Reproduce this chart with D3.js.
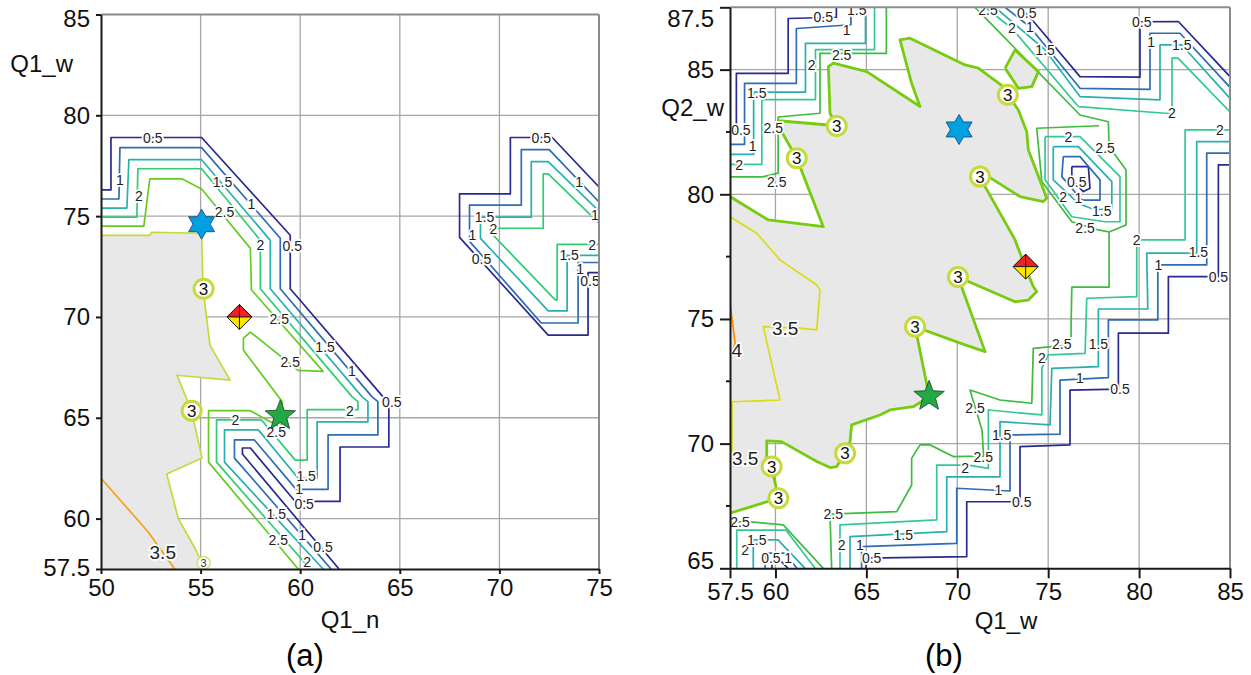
<!DOCTYPE html>
<html><head><meta charset="utf-8">
<script src="https://cdn.jsdelivr.net/npm/d3@7/dist/d3.min.js"></script>
<style>
html,body{margin:0;padding:0;background:#fff;}
svg{display:block;}
text{font-family:"Liberation Sans",Arial,sans-serif;}
</style></head><body>
<svg id="chart" width="1251" height="675"></svg>
<script>
// ---------------- Panel (a) data : Q1_n vs Q1_w ----------------
const A_xTicks=[50,55,60,65,70,75];
const A_yTicks=[57.5,60,65,70,75,80,85];
const A_xGrid=[55,60,65,70];
const A_yGrid=[60,65,70,75,80];
const A_05_main=[[50,76.3],[50.5,76.3],[50.5,78.9],[55.05,78.9],[59.5,74.05],[59.5,71.4],[64.15,66.05],[64.45,65.8],[64.45,63.55],[62,63.55],[62,60.85],[59.75,60.85],[57.5,63.5],[57.1,63.5],[57.1,63.2],[61.95,57.5]];
const A_1_main=[[50,75.85],[50.9,75.85],[50.95,78.4],[55.05,78.4],[59,73.9],[59,71.4],[63.6,66.05],[63.9,65.8],[63.9,64.15],[61.4,64.15],[61.4,61.45],[59.8,61.45],[57.7,63.9],[56.7,63.9],[56.7,63.0],[61.55,57.5]];
const A_15_main=[[50,75.4],[51.3,75.4],[51.4,77.8],[55.05,77.8],[58.5,73.8],[58.5,71.4],[63.1,66.05],[63.4,65.8],[63.4,64.8],[60.85,64.8],[60.85,62.0],[59.9,62.0],[57.9,64.4],[56.2,64.4],[56.2,62.8],[61.15,57.5]];
const A_2_main=[[50,74.95],[51.8,74.95],[51.85,77.35],[55.05,77.35],[58,73.8],[58,71.4],[62.6,66.05],[62.9,65.8],[62.9,65.4],[60.35,65.4],[60.35,62.9],[59.75,62.9],[58.05,64.9],[55.8,64.9],[55.8,62.8],[60.5,57.5]];
const A_25_main=[[50,74.5],[52.15,74.5],[52.45,76.85],[54.05,76.85],[55.05,76.35],[57.5,73.4],[57.55,71.35],[61.15,67.3],[59.9,67.35],[57.5,69.25],[57.15,68.95],[57.15,68.35],[59.1,65.8],[59.05,64.5],[57.5,65.35],[55.4,65.35],[55.4,62.8],[59.9,57.5]];
const A_3=[[50,74.05],[52.45,74.05],[52.55,74.2],[55.05,74.15],[55.12,71.42],[55.47,68.6],[56.48,66.87],[53.82,67.11],[54.55,65.33],[55.07,63.0],[53.3,62.21],[53.88,60.0],[54.72,58.53],[55.06,57.8],[55.12,57.5]];
const A_35=[[50,62.0],[52.36,59.35],[53.7,57.5]];
const A_05_R=[[75,76.45],[72.65,78.9],[70.55,78.9],[70.55,76.1],[68.0,76.1],[68.0,73.95],[72.45,69.1],[74.45,69.1],[74.45,72.2],[75,72.2]];
const A_1_R=[[75,75.7],[72.5,78.3],[71.1,78.3],[71.1,75.55],[68.5,75.55],[68.5,73.75],[72.1,69.7],[73.95,69.7],[73.95,72.7],[75,72.7]];
const A_15_R=[[75,75.25],[72.45,77.7],[71.6,77.7],[71.6,74.95],[69.05,74.95],[69.05,73.9],[72.45,70.3],[73.4,70.3],[73.4,73.05],[75,73.05]];
const A_2_R=[[75,74.65],[72.45,77.1],[72.2,77.1],[72.2,74.4],[69.55,74.4],[69.55,74.2],[72.8,70.85],[72.9,70.85],[72.9,73.6],[75,73.6]];
const A_labels=[[52.6,78.9,"0.5"],[50.95,76.8,"1"],[51.9,76.0,"2"],[56.1,76.7,"1.5"],[57.55,75.6,"1"],[56.2,75.2,"2.5"],[58.0,73.55,"2"],[59.6,73.5,"0.5"],[58.95,69.9,"2.5"],[61.25,68.5,"1.5"],[62.6,67.3,"1"],[59.5,67.75,"2.5"],[56.75,64.9,"2"],[58.8,64.3,"2.5"],[62.5,65.35,"2"],[64.6,65.8,"0.5"],[60.3,62.1,"1.5"],[59.95,61.45,"1"],[60.2,60.75,"0.5"],[58.8,60.25,"1.5"],[58.9,58.95,"2.5"],[60.1,59.2,"1"],[61.15,58.6,"0.5"],[60.35,57.85,"2"],[53.1,58.35,"3.5"],[72.1,78.9,"0.5"],[74.0,76.7,"1"],[74.8,75.05,"1"],[69.25,74.95,"1.5"],[69.7,74.35,"2"],[68.65,74.05,"1"],[69.1,72.9,"0.5"],[74.65,73.55,"2"],[73.5,73.05,"1.5"],[74.05,72.4,"1"],[74.55,71.8,"0.5"]];
const A_circles=[[55.15,71.4],[54.55,65.35]];
const A_smallCircles=[[55.15,57.8]];
const A_hexagram=[55.05,74.6], A_diamond=[56.95,70.0], A_star=[59.0,65.1];

// ---------------- Panel (b) data : Q1_w vs Q2_w ----------------
const B_xTicks=[57.5,60,65,70,75,80,85];
const B_yTicks=[65,70,75,80,85,87.5];
const B_yMinor=[67.5,72.5,77.5,82.5];
const B_xGrid=[60,65,70,75,80];
const B_yGrid=[70,75,80,85];
const B_05_tl=[[63.35,87.5],[63.35,87.1],[60.7,87.05],[60.7,84.85],[57.85,84.85],[57.85,82.5],[57.5,82.5]];
const B_1_tl=[[64.15,87.5],[64.15,86.8],[61.15,86.65],[61.15,84.45],[58.3,84.45],[58.3,82.0],[57.5,82.0]];
const B_15_tl=[[64.95,87.5],[64.95,86.05],[61.65,86.05],[61.65,84.1],[58.8,84.1],[58.8,81.6],[57.5,81.6]];
const B_2_tl=[[65.45,87.5],[65.45,85.8],[62.2,85.8],[62.2,83.8],[59.25,83.8],[59.25,81.2],[57.5,81.2]];
const B_25_tl=[[66.1,87.5],[66.1,85.65],[62.45,85.65],[62.45,83.25],[60.15,83.1],[60.15,80.85],[59.3,80.7],[57.5,80.7]];
const B_05_top=[[73.45,87.5],[74.28,86.86],[76.75,84.72],[80.05,84.7],[80.05,86.92],[82.16,86.93],[85,84.72]];
const B_1_top=[[72.63,87.5],[74.0,86.71],[76.75,84.25],[80.6,84.21],[80.6,86.46],[82.25,86.46],[85,84.29]];
const B_15_top=[[72.08,87.5],[74.83,85.79],[76.75,83.92],[81.15,83.79],[81.15,85.99],[82.35,85.99],[85,83.85]];
const B_2_top=[[71.53,87.5],[73.0,86.66],[76.66,83.52],[81.43,83.25],[81.81,83.25],[81.81,85.46],[82.14,85.46],[85,83.3]];
const B_05_br=[[64.98,65],[64.98,65.41],[70.52,65.47],[70.52,67.67],[73.45,67.67],[73.45,69.88],[76.2,69.95],[76.2,72.15],[78.86,72.19],[78.86,74.43],[81.61,74.43],[81.61,76.7],[84.36,76.7],[84.36,81.18],[85,81.18]];
const B_1_br=[[64.74,65],[64.74,65.87],[69.97,66.0],[69.97,68.21],[72.9,68.1],[72.9,70.35],[75.65,70.38],[75.65,72.55],[78.31,72.65],[78.31,74.96],[81.03,74.96],[81.03,77.17],[83.72,77.17],[83.72,81.65],[85,81.65]];
const B_15_br=[[64.1,65],[64.1,66.27],[69.42,66.47],[69.42,68.67],[72.35,68.67],[72.35,70.88],[75.1,70.75],[75.2,73.02],[77.76,73.09],[77.76,75.4],[80.48,75.4],[80.42,77.64],[83.17,77.64],[83.17,82.11],[85,82.11]];
const B_2_br=[[63.55,65],[63.55,66.74],[68.87,66.94],[68.87,69.14],[70.6,69.14],[71.71,69.01],[71.71,71.35],[74.65,71.15],[74.65,73.02],[75.01,73.56],[77.03,73.62],[77.12,75.83],[79.87,75.9],[79.87,78.17],[82.53,78.17],[82.53,82.58],[85,82.58]];
const B_25_main=[[70.98,87.5],[76.75,83.18],[78.31,82.91],[78.35,81.91],[79.28,80.98],[79.28,78.77],[78.35,78.49],[78.35,76.28],[76.3,76.28],[76.26,74.76],[76.26,73.96],[74.18,73.82],[74.1,71.62],[72.35,71.75],[70.7,72.15],[71.36,70.55],[71.45,69.5],[69.78,69.48],[68.5,69.95],[67.95,69.95],[67.49,69.41],[67.49,68.34],[66.67,67.27],[63.0,67.17],[63.09,65]];
const B_hole_05=[[76.3,81.11],[77.21,81.11],[77.3,80.24],[76.93,80.11],[76.3,80.58],[76.3,81.11]];
const B_hole_1=[[75.83,81.51],[76.75,81.51],[77.85,80.58],[77.85,79.77],[76.85,79.77],[75.75,80.71],[75.83,81.51]];
const B_hole_15=[[75.28,81.91],[76.66,81.91],[78.5,80.51],[78.5,79.44],[77.58,79.37],[76.66,79.64],[75.28,80.58],[75.28,81.91]];
const B_hole_2=[[74.83,82.31],[76.75,82.31],[78.95,80.71],[78.95,78.9],[78.13,78.9],[76.3,79.1],[74.83,80.58],[74.83,82.31]];
const B_hole_25=[[77.8,82.75],[74.37,82.65],[74.65,80.51],[76.3,78.9],[77.76,78.57],[78.35,78.49]];
const B_3=[[57.5,79.91],[59.61,78.97],[62.63,78.7],[61.35,81.11],[61.17,81.45],[60.34,82.51],[60.16,82.95],[62.91,82.78],[63.37,82.74],[63.0,83.25],[62.91,85.12],[63.18,85.26],[65.02,84.92],[67.95,83.52],[67.49,84.45],[66.85,86.19],[67.4,86.26],[70.43,85.19],[71.16,85.06],[72.53,84.32],[72.78,83.99],[73.36,83.38],[73.82,82.51],[73.91,81.78],[74.92,79.84],[74.73,79.71],[73.45,79.91],[71.71,80.71],[71.25,80.71],[71.53,80.31],[73.18,78.17],[73.73,77.1],[74.18,76.3],[74.37,76.1],[73.91,75.76],[73.18,75.69],[70.04,76.68],[71.53,73.69],[70.43,73.96],[67.68,74.69],[68.46,71.88],[67.58,71.48],[66.3,71.35],[65.75,71.15],[64.19,70.75],[64.1,70.08],[63.83,69.61],[63.37,69.08],[63.0,69.04],[62.27,69.28],[60.34,70.08],[59.52,70.11],[59.52,69.41],[59.79,69.08],[60.16,67.81],[57.5,67.21]];
const B_3_island=[[72.63,85.06],[73.18,85.79],[74.46,84.92],[74.1,84.32],[73.36,84.25],[72.63,85.06]];
const B_35=[[57.5,79.1],[58.97,78.44],[60.25,77.37],[62.27,76.36],[62.45,76.16],[62.27,74.56],[61.35,74.63],[59.33,74.69],[60.25,71.75],[57.61,71.68],[57.61,69.72],[57.5,69.64]];
const B_4=[[57.5,75.65],[57.78,74.03],[57.55,73.5]];
const B_25_bl=[[57.5,66.87],[58.78,66.85],[60.43,66.74],[62.63,65]];
const B_2_bl=[[57.87,65],[57.87,66.53],[60.58,66.53],[62.18,65]];
const B_15_bl=[[58.78,65],[58.78,66.14],[60.14,66.14],[61.63,65]];
const B_1_bl=[[59.43,65],[59.43,65.61],[60.47,65.61],[61.19,65]];
const B_05_bl=[[59.81,65],[59.81,65.25],[60.36,65.25],[60.69,65]];
const B_labels=[[62.63,87.1,"0.5"],[64.47,87.39,"1.5"],[63.92,86.59,"1"],[61.99,85.19,"2"],[63.64,85.59,"2.5"],[58.97,84.05,"1.5"],[58.1,82.6,"0.5"],[58.75,81.95,"1"],[59.88,82.65,"2.5"],[58.01,81.18,"2"],[60.07,80.51,"2.5"],[71.69,87.39,"2.5"],[73.0,86.66,"2"],[74.0,86.72,"1"],[73.82,87.26,"0.5"],[74.83,85.79,"1.5"],[80.15,86.93,"0.5"],[80.66,86.12,"1"],[82.35,85.97,"1.5"],[81.8,83.27,"2"],[84.45,82.58,"2"],[76.11,82.31,"2"],[78.13,81.85,"2.5"],[76.57,80.51,"0.5"],[75.83,79.91,"2"],[76.66,79.84,"1"],[77.95,79.34,"1.5"],[77.03,78.64,"2.5"],[79.87,78.17,"2"],[83.26,77.7,"1.5"],[81.06,77.17,"1"],[84.36,76.7,"0.5"],[75.75,73.99,"2.5"],[77.76,73.99,"1.5"],[74.65,73.42,"2"],[76.75,72.62,"1"],[78.95,72.19,"0.5"],[70.98,71.42,"2.5"],[72.44,70.35,"1.5"],[71.43,69.48,"2.5"],[70.43,69.01,"2"],[72.26,68.14,"1"],[73.55,67.67,"0.5"],[60.53,74.63,"3.5"],[57.87,73.76,"4"],[58.33,69.41,"3.5"],[63.18,67.17,"2.5"],[63.64,65.93,"2"],[67.03,66.34,"1.5"],[64.65,65.93,"1"],[65.29,65.4,"0.5"],[58.05,66.87,"2.5"],[58.33,65.73,"2"],[58.97,66.14,"1.5"],[59.75,65.41,"0.5"],[60.7,65.41,"1"]];
const B_circles=[[61.17,81.45],[63.37,82.74],[72.78,83.99],[71.25,80.71],[70.04,76.68],[67.68,74.69],[63.83,69.61],[59.79,69.08],[60.16,67.81]];
const B_hexagram=[70.1,82.6], B_diamond=[73.76,77.1], B_star=[68.45,71.9];

// colours per contour level
const A_colors={0.5:"#29298f",1:"#2e6cb3",1.5:"#27b0b0",2:"#2fcc72",2.5:"#66cc22",3:"#c3db3a",3.5:"#f5a11a"};
const B_colors={0.5:"#29298f",1:"#2e6cb3",1.5:"#27b0b0",2:"#33c896",2.5:"#3fbb3f",3:"#77cc11",3.5:"#dcdc12",4:"#ff8c00"};

const A_lines=[[0.5,A_05_main],[1,A_1_main],[1.5,A_15_main],[2,A_2_main],[2.5,A_25_main],[3,A_3],[3.5,A_35],[0.5,A_05_R],[1,A_1_R],[1.5,A_15_R],[2,A_2_R]];
const B_lines=[[0.5,B_05_tl],[1,B_1_tl],[1.5,B_15_tl],[2,B_2_tl],[2.5,B_25_tl],[0.5,B_05_top],[1,B_1_top],[1.5,B_15_top],[2,B_2_top],[0.5,B_05_br],[1,B_1_br],[1.5,B_15_br],[2,B_2_br],[2.5,B_25_main],[0.5,B_hole_05],[1,B_hole_1],[1.5,B_hole_15],[2,B_hole_2],[2.5,B_hole_25],[3.5,B_35],[4,B_4],[2.5,B_25_bl],[2,B_2_bl],[1.5,B_15_bl],[1,B_1_bl],[0.5,B_05_bl],[3,B_3],[3,B_3_island]];

const svg=d3.select("#chart");

function starPath(cx,cy,n,R,r){
  const pts=[];
  for(let i=0;i<2*n;i++){
    const a=-Math.PI/2+i*Math.PI/n;
    const rad=i%2===0?R:r;
    pts.push([cx+rad*Math.cos(a),cy+rad*Math.sin(a)]);
  }
  return "M"+pts.map(p=>p.join(",")).join("L")+"Z";
}

function drawPanel(cfg){
  const {id,x,y,xTicks,yTicks,yMinor,xGrid,yGrid,lines,colors,fills,labels,circles,smallCircles,hexagram,diamond,star,majorLen,minorLen,xTitle,yTitle,yTitlePos,xTitlePos,panelLabel,panelLabelPos,tickShift,thick3}=cfg;
  const [xl,xr]=x.range(), [yb,yt]=y.range();
  const g=svg.append("g");
  g.append("clipPath").attr("id","clip"+id).append("rect").attr("x",xl).attr("y",yt).attr("width",xr-xl).attr("height",yb-yt);
  const plot=g.append("g").attr("clip-path",`url(#clip${id})`);
  plot.selectAll(null).data(xGrid).join("line").attr("x1",d=>x(d)).attr("x2",d=>x(d)).attr("y1",yt).attr("y2",yb).attr("stroke","#a6a6a6").attr("stroke-width",1.3);
  plot.selectAll(null).data(yGrid).join("line").attr("y1",d=>y(d)).attr("y2",d=>y(d)).attr("x1",xl).attr("x2",xr).attr("stroke","#a6a6a6").attr("stroke-width",1.3);
  const line=d3.line().x(d=>x(d[0])).y(d=>y(d[1]));
  plot.selectAll(null).data(fills).join("path").attr("d",d=>line(d)+"Z").attr("fill","#e8e8e8").attr("stroke","none");
  plot.selectAll(null).data(lines).join("path").attr("d",d=>line(d[1])).attr("fill","none")
    .attr("stroke",d=>colors[d[0]]).attr("stroke-width",d=>(d[0]===3&&thick3)?2.8:1.7).attr("stroke-linejoin","round");
  plot.selectAll(null).data(labels).join("text").attr("x",d=>x(d[0])).attr("y",d=>y(d[1])).attr("dy","0.36em")
    .attr("text-anchor","middle").attr("font-size",d=>(+d[2]>=3.5)?19:14).attr("fill","#222")
    .attr("stroke","#fff").attr("stroke-width",3.5).attr("paint-order","stroke").text(d=>d[2]);
  const cg=plot.selectAll(null).data(circles).join("g").attr("transform",d=>`translate(${x(d[0])},${y(d[1])})`);
  cg.append("circle").attr("r",9.5).attr("fill","#fff").attr("stroke","#c6da3c").attr("stroke-width",3);
  cg.append("text").attr("text-anchor","middle").attr("dy","0.36em").attr("font-size",17).attr("fill","#111").text("3");
  if(smallCircles){
    const sg=plot.selectAll(null).data(smallCircles).join("g").attr("transform",d=>`translate(${x(d[0])},${y(d[1])})`);
    sg.append("circle").attr("r",6.5).attr("fill","#fff").attr("stroke","#d4e070").attr("stroke-width",1.5);
    sg.append("text").attr("text-anchor","middle").attr("dy","0.36em").attr("font-size",11).attr("fill","#333").text("3");
  }
  g.append("line").attr("x1",xl).attr("x2",xr).attr("y1",yt).attr("y2",yt).attr("stroke","#8c8c8c").attr("stroke-width",2);
  g.append("line").attr("x1",xr).attr("x2",xr).attr("y1",yt).attr("y2",yb).attr("stroke","#8c8c8c").attr("stroke-width",2);
  const ax=g.append("g").attr("transform",`translate(0,${yb})`).call(d3.axisBottom(x).tickValues(xTicks).tickSize(majorLen).tickSizeOuter(0).tickPadding(5).tickFormat(d=>d));
  const ay=g.append("g").attr("transform",`translate(${xl},0)`).call(d3.axisLeft(y).tickValues(yTicks).tickSize(majorLen).tickSizeOuter(0).tickPadding(6).tickFormat(d=>d));
  [ax,ay].forEach(a=>{
    a.select(".domain").attr("stroke","#1a1a1a").attr("stroke-width",2);
    a.selectAll(".tick line").attr("stroke","#1a1a1a").attr("stroke-width",2);
    a.selectAll(".tick text").attr("font-size",24).attr("fill","#111").attr("font-family","Liberation Sans, Arial, sans-serif");
  });
  ay.selectAll(".tick text").attr("dy",d=>(tickShift[d]!==undefined? tickShift[d] : 0.33)+"em");
  if(yMinor){
    g.selectAll(null).data(yMinor).join("line").attr("x1",xl-minorLen).attr("x2",xl).attr("y1",d=>y(d)).attr("y2",d=>y(d)).attr("stroke","#1a1a1a").attr("stroke-width",2);
  }
  g.append("text").attr("x",xTitlePos[0]).attr("y",xTitlePos[1]).attr("text-anchor","middle").attr("font-size",24).attr("fill","#111").text(xTitle);
  g.append("text").attr("x",yTitlePos[0]).attr("y",yTitlePos[1]).attr("text-anchor","end").attr("font-size",24).attr("fill","#111").text(yTitle);
  g.append("text").attr("x",panelLabelPos[0]).attr("y",panelLabelPos[1]).attr("text-anchor","middle").attr("font-size",31).attr("fill","#000").attr("font-family","Liberation Serif, Times New Roman, serif").text(panelLabel);
  const mk=plot.append("g");
  mk.append("path").attr("d",starPath(x(hexagram[0]),y(hexagram[1]),6,15,8.7)).attr("fill","#00a0e3").attr("stroke","#203a60").attr("stroke-width",0.8);
  mk.append("path").attr("d",starPath(x(star[0]),y(star[1]),5,16,6.8)).attr("fill","#22a845").attr("stroke","#18401e").attr("stroke-width",0.8);
  const dx=x(diamond[0]), dy=y(diamond[1]), h=12.5;
  const tri=(a,b,c,col)=>mk.append("path").attr("d",`M${a}L${b}L${c}Z`).attr("fill",col).attr("stroke","none");
  tri([dx,dy-h],[dx-h,dy],[dx,dy],"#ee2222");
  tri([dx,dy-h],[dx+h,dy],[dx,dy],"#ee2222");
  tri([dx,dy+h],[dx-h,dy],[dx,dy],"#ffe600");
  tri([dx,dy+h],[dx+h,dy],[dx,dy],"#ffe600");
  mk.append("path").attr("d",`M${dx},${dy-h}L${dx+h},${dy}L${dx},${dy+h}L${dx-h},${dy}Z M${dx},${dy-h}L${dx},${dy+h} M${dx-h},${dy}L${dx+h},${dy}`).attr("fill","none").attr("stroke","#111").attr("stroke-width",1);
}

drawPanel({id:"A",
  x:d3.scaleLinear().domain([50,75]).range([101,599]),
  y:d3.scaleLinear().domain([57.5,85]).range([569,14.5]),
  xTicks:A_xTicks,yTicks:A_yTicks,yMinor:null,xGrid:A_xGrid,yGrid:A_yGrid,
  lines:A_lines,colors:A_colors,fills:[A_3.concat([[50,57.5]])],labels:A_labels,circles:A_circles,smallCircles:A_smallCircles,
  hexagram:A_hexagram,diamond:A_diamond,star:A_star,majorLen:5,minorLen:3,
  xTitle:"Q1_n",xTitlePos:[350,628],yTitle:"Q1_w",yTitlePos:[73,72],panelLabel:"(a)",panelLabelPos:[305,666],
  tickShift:{85:0.5,57.5:0.25},thick3:false});

drawPanel({id:"B",
  x:d3.scaleLinear().domain([57.5,85]).range([730,1230]),
  y:d3.scaleLinear().domain([65,87.5]).range([568.3,7.3]),
  xTicks:B_xTicks,yTicks:B_yTicks,yMinor:B_yMinor,xGrid:B_xGrid,yGrid:B_yGrid,
  lines:B_lines,colors:B_colors,fills:[B_3,B_3_island],labels:B_labels,circles:B_circles,smallCircles:null,
  hexagram:B_hexagram,diamond:B_diamond,star:B_star,majorLen:10,minorLen:4,
  xTitle:"Q1_w",xTitlePos:[1006,629],yTitle:"Q2_w",yTitlePos:[724,116],panelLabel:"(b)",panelLabelPos:[944,666],
  tickShift:{87.5:0.8,65:0.0},thick3:true});
</script>
</body></html>
